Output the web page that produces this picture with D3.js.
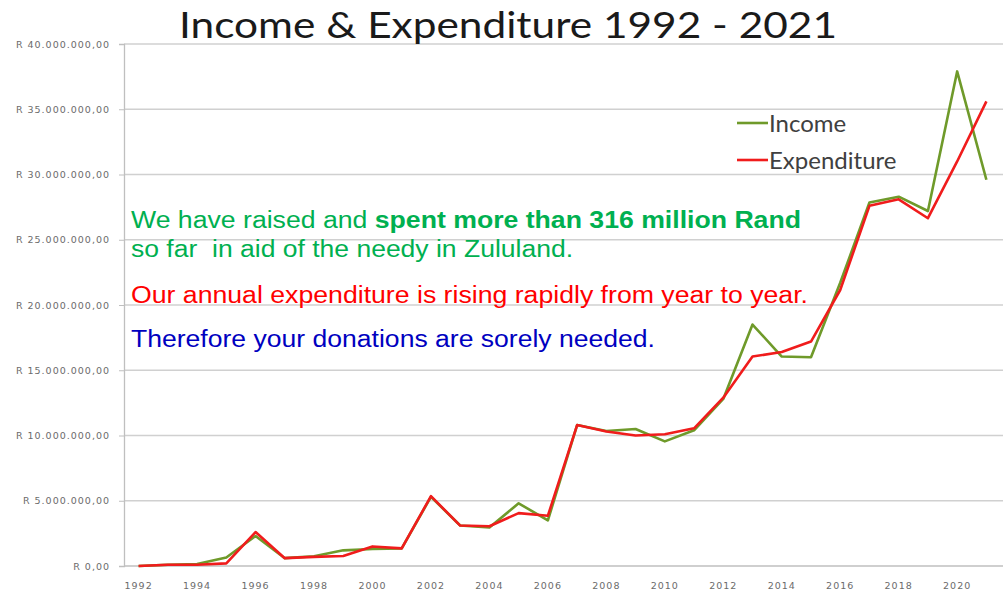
<!DOCTYPE html>
<html>
<head>
<meta charset="utf-8">
<script src="https://cdnjs.cloudflare.com/ajax/libs/d3/7.8.5/d3.min.js"></script>
<style>
  body { margin: 0; background: #fff; }
  svg { display: block; }
</style>
</head>
<body>
<svg width="1008" height="594"></svg>
<script>
// data, values in Rand
var years = d3.range(1992, 2022);
var income = [0.0, 0.1, 0.15, 0.65, 2.3, 0.6, 0.75, 1.2, 1.3, 1.35,
  5.3, 3.1, 2.95, 4.8, 3.5, 10.8, 10.35, 10.5, 9.55, 10.4,
  12.8, 18.5, 16.05, 16.0, 21.7, 27.85, 28.3, 27.2, 37.9, 29.6].map(function(d){ return d * 1e6; });
var expenditure = [0.0, 0.1, 0.1, 0.2, 2.6, 0.6, 0.7, 0.77, 1.5, 1.35,
  5.35, 3.1, 3.05, 4.05, 3.85, 10.8, 10.3, 10.0, 10.1, 10.55,
  12.9, 16.05, 16.4, 17.2, 21.15, 27.6, 28.1, 26.65, 31.0, 35.6].map(function(d){ return d * 1e6; });
var yTicks = d3.range(0, 40000001, 5000000);
var xTickYears = d3.range(1992, 2021, 2);

var svg = d3.select("svg"),
    width = +svg.attr("width"),
    height = +svg.attr("height");

var margin = {top: 44, right: 5, bottom: 28, left: 124};

var x = d3.scalePoint()
    .domain(years)
    .range([margin.left, width - margin.right - 2])
    .padding(0.5);

var y = d3.scaleLinear()
    .domain([0, 40000000])
    .range([height - margin.bottom, margin.top]);

var locale = d3.formatLocale({decimal: ",", thousands: ".", grouping: [3], currency: ["R ", ""]});
var fmt = locale.format("$,.2f");

var tickFont = "'DejaVu Sans', sans-serif";

// gridlines
svg.append("g")
    .attr("class", "grid")
    .selectAll("line")
    .data(yTicks.slice(1))
    .enter()
    .append("line")
    .attr("x1", margin.left)
    .attr("x2", width - margin.right)
    .attr("y1", function(d){ return y(d); })
    .attr("y2", function(d){ return y(d); })
    .attr("stroke", "#d0d0d0")
    .attr("stroke-width", 1.3);

// y axis
var yAxis = svg.append("g")
    .attr("transform", "translate(" + margin.left + ",0)")
    .call(d3.axisLeft(y).tickValues(yTicks).tickFormat(fmt).tickSize(5).tickPadding(9));
yAxis.select(".domain").attr("stroke", "#bfbfbf").attr("stroke-width", 1.3);
yAxis.selectAll(".tick line").attr("stroke", "#bfbfbf");
yAxis.selectAll("text")
    .attr("fill", "#6b6b6b")
    .style("font-family", tickFont)
    .style("font-size", "9.5px")
    .style("letter-spacing", "1px");

// x axis
svg.append("line")
    .attr("x1", margin.left)
    .attr("x2", width - margin.right)
    .attr("y1", y(0))
    .attr("y2", y(0))
    .attr("stroke", "#bfbfbf")
    .attr("stroke-width", 1.3);

svg.append("g")
    .selectAll("text")
    .data(xTickYears)
    .enter()
    .append("text")
    .attr("x", function(d){ return x(d); })
    .attr("y", height - 5)
    .attr("text-anchor", "middle")
    .attr("fill", "#6b6b6b")
    .style("font-family", tickFont)
    .style("font-size", "9.5px")
    .style("letter-spacing", "1px")
    .text(function(d){ return d; });

// lines
var line = d3.line()
    .x(function(d){ return x(d.year); })
    .y(function(d){ return y(d.value); });

var series = [
  {name: "Income", color: "#6f9a2a", values: income},
  {name: "Expenditure", color: "#f01c1c", values: expenditure}
];

series.forEach(function(s){
    svg.append("path")
        .datum(years.map(function(yr, i){ return {year: yr, value: s.values[i]}; }))
        .attr("fill", "none")
        .attr("stroke", s.color)
        .attr("stroke-width", 2.6)
        .attr("stroke-linejoin", "round")
        .attr("d", line);
});

// legend
var legend = svg.append("g").attr("transform", "translate(737,123)");
series.forEach(function(s, i){
    var g = legend.append("g").attr("transform", "translate(0," + (i * 37) + ")");
    g.append("line")
        .attr("x1", 0).attr("x2", 31)
        .attr("stroke", s.color)
        .attr("stroke-width", 2.6);
    g.append("text")
        .attr("x", 32)
        .attr("dy", "0.36em")
        .attr("fill", "#404040")
        .style("font-family", "Lato, 'Open Sans', sans-serif")
        .style("font-size", "24px")
        .text(s.name);
});

// title
svg.append("text")
    .attr("x", 508)
    .attr("y", 38)
    .attr("text-anchor", "middle")
    .attr("fill", "#1a1a1a")
    .attr("textLength", 658)
    .attr("lengthAdjust", "spacingAndGlyphs")
    .style("font-family", "Lato, 'Open Sans', sans-serif")
    .style("font-size", "37px")
    .text("Income & Expenditure 1992 - 2021");

// message text
var msgFont = "'Liberation Sans', Arial, sans-serif";
var msgSize = "23px";
var t1 = svg.append("text")
    .attr("x", 131).attr("y", 228)
    .attr("fill", "#00b050")
    .attr("textLength", 670)
    .attr("lengthAdjust", "spacingAndGlyphs")
    .style("font-family", msgFont)
    .style("font-size", msgSize);
t1.append("tspan").text("We have raised and ");
t1.append("tspan").style("font-weight", "bold").text("spent more than 316 million Rand");

svg.append("text")
    .attr("x", 131).attr("y", 257)
    .attr("fill", "#00b050")
    .attr("textLength", 442)
    .attr("lengthAdjust", "spacingAndGlyphs")
    .style("font-family", msgFont)
    .style("font-size", msgSize)
    .style("white-space", "pre")
    .text("so far  in aid of the needy in Zululand.");

svg.append("text")
    .attr("x", 131).attr("y", 303)
    .attr("fill", "#ff0000")
    .attr("textLength", 677)
    .attr("lengthAdjust", "spacingAndGlyphs")
    .style("font-family", msgFont)
    .style("font-size", msgSize)
    .text("Our annual expenditure is rising rapidly from year to year.");

svg.append("text")
    .attr("x", 131).attr("y", 347)
    .attr("fill", "#0000c0")
    .attr("textLength", 524)
    .attr("lengthAdjust", "spacingAndGlyphs")
    .style("font-family", msgFont)
    .style("font-size", msgSize)
    .text("Therefore your donations are sorely needed.");
</script>
</body>
</html>
